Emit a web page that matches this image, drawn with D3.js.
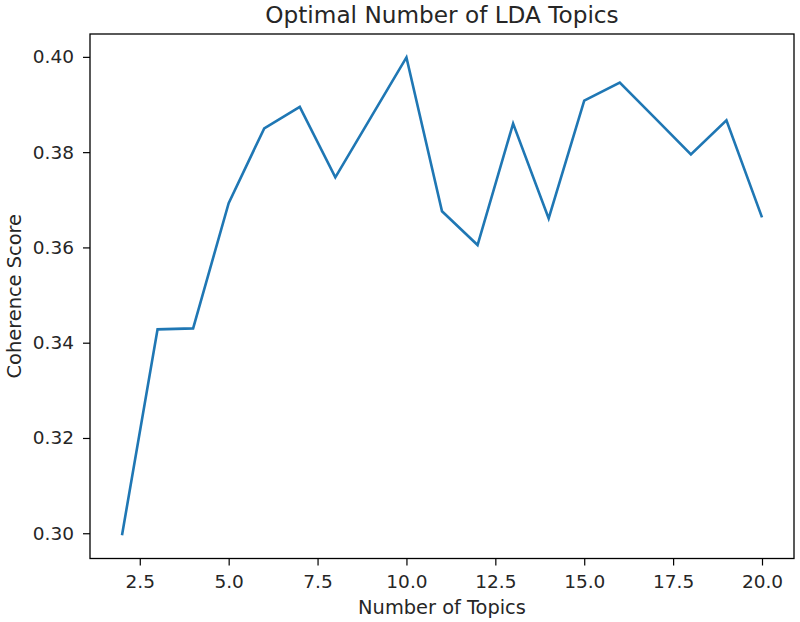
<!DOCTYPE html>
<html>
<head>
<meta charset="utf-8">
<script src="https://cdn.jsdelivr.net/npm/d3@7"></script>
<style>
  body { margin: 0; background: white; }
  text { font-family: "DejaVu Sans", sans-serif; fill: #262626; }
</style>
</head>
<body>
<div id="chart"></div>
<script>
// number of topics vs. coherence score
const topics = [2, 3, 4, 5, 6, 7, 8, 9, 10, 11, 12, 13, 14, 15, 16, 17, 18, 19, 20];
const coherence = [0.2996, 0.3428, 0.3430, 0.3693, 0.3850, 0.3895, 0.3747, 0.3873, 0.3999,
                   0.3676, 0.3605, 0.3860, 0.3661, 0.3908, 0.3946, 0.3871, 0.3795, 0.3867, 0.3663];
const xTicks = [2.5, 5.0, 7.5, 10.0, 12.5, 15.0, 17.5, 20.0];
const yTicks = [0.30, 0.32, 0.34, 0.36, 0.38, 0.40];

const data = topics.map((t, i) => ({t: t, v: coherence[i]}));

const W = 800, H = 622;
const margin = {top: 34, right: 6, bottom: 63.5, left: 90},
      width  = W - margin.left - margin.right,
      height = H - margin.top - margin.bottom;

const svg = d3.select("#chart")
    .append("svg")
    .attr("width", W)
    .attr("height", H);

const g = svg.append("g")
    .attr("transform", `translate(${margin.left},${margin.top})`);

    // scales (matplotlib style 5% padding)
const x = d3.scaleLinear().domain([1.1, 20.9]).range([0, width]);
const y = d3.scaleLinear().domain([0.2947, 0.4048]).range([height, 0]);

    // axes
const xAxis = g.append("g")
    .attr("transform", `translate(0,${height})`)
    .call(d3.axisBottom(x).tickValues(xTicks).tickFormat(d3.format(".1f")).tickSize(7).tickPadding(9));

const yAxis = g.append("g")
    .call(d3.axisLeft(y).tickValues(yTicks).tickFormat(d3.format(".2f")).tickSize(7).tickPadding(9));

[xAxis, yAxis].forEach(a => {
    a.select(".domain").remove();
    a.selectAll(".tick line").attr("stroke", "black").attr("stroke-width", 1.2);
    a.selectAll(".tick text")
        .style("font-size", "18.5px")
        .attr("font-family", "DejaVu Sans")
        .attr("fill", "#262626");
});

    // the line
const line = d3.line()
    .x(d => x(d.t))
    .y(d => y(d.v));

g.append("path")
    .datum(data)
    .attr("fill", "none")
    .attr("stroke", "#1f77b4")
    .attr("stroke-width", 2.6)
    .attr("stroke-linejoin", "miter")
    .attr("d", line);

    // frame
g.append("rect")
    .attr("x", 0).attr("y", 0)
    .attr("width", width).attr("height", height)
    .attr("fill", "none")
    .attr("stroke", "black")
    .attr("stroke-width", 1.3);

    // title + labels
svg.append("text")
    .attr("text-anchor", "middle")
    .attr("x", margin.left + width / 2)
    .attr("y", 23)
    .style("font-size", "23.2px")
    .text("Optimal Number of LDA Topics");

svg.append("text")
    .attr("text-anchor", "middle")
    .attr("x", margin.left + width / 2)
    .attr("y", 614)
    .style("font-size", "19.4px")
    .text("Number of Topics");

svg.append("text")
    .attr("text-anchor", "middle")
    .attr("transform", "rotate(-90)")
    .attr("x", -(margin.top + height / 2))
    .attr("y", 21)
    .style("font-size", "19.4px")
    .text("Coherence Score");
</script>
</body>
</html>
